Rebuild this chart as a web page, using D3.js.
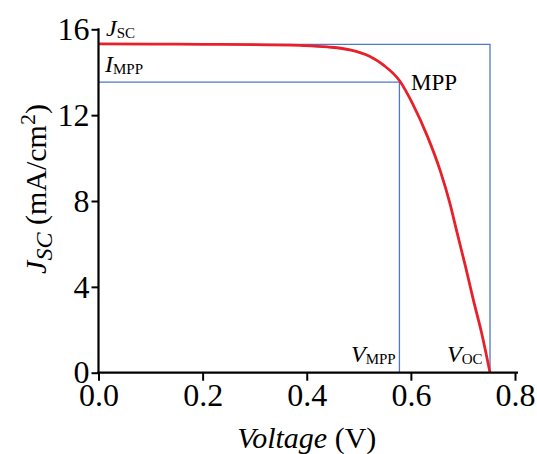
<!DOCTYPE html>
<html><head><meta charset="utf-8">
<script src="https://cdn.jsdelivr.net/npm/d3@7"></script>
<style>body{margin:0;background:#fff}svg{display:block}text{font-family:"Liberation Serif","Times New Roman",serif;fill:#000}</style>
</head><body><svg id="c" width="537" height="454"></svg>
<script>
const voltage = [0, 0.1, 0.2, 0.3, 0.387, 0.44, 0.483, 0.5215, 0.547, 0.579, 0.603, 0.632, 0.656, 0.675, 0.689, 0.705, 0.720, 0.736, 0.752];
const current = [15.32, 15.31, 15.30, 15.29, 15.25, 15.18, 15.04, 14.73, 14.34, 13.58, 12.55, 11.0, 9.44, 7.89, 6.5, 4.94, 3.39, 1.84, 0];
const xTicks = [0, 0.2, 0.4, 0.6, 0.8];
const yTicks = [0, 4, 8, 12, 16];
const Jsc = 15.3, Impp = 13.54, Vmpp = 0.578, Voc = 0.752;

const svg = d3.select("#c");
const x = d3.scaleLinear().domain([0, 0.8]).range([98.5, 515]);
const y = d3.scaleLinear().domain([0, 16]).range([372.7, 29.3]);

// reference rectangles
const blue = "#4f79c7";
const g = svg.append("g");
g.append("path").attr("fill","none").attr("stroke",blue).attr("stroke-width",1.3)
  .attr("d", `M${x(0)},${y(Jsc)}H${x(Voc)}V${y(0)}`);
g.append("path").attr("fill","none").attr("stroke",blue).attr("stroke-width",1.3)
  .attr("d", `M${x(0)},${y(Impp)}H${x(Vmpp)}V${y(0)}`);

// curve
const pts = voltage.map((v,i)=>[v,current[i]]);
svg.append("path").datum(pts).attr("fill","none").attr("stroke","#e8202a").attr("stroke-width",2.8)
  .attr("d", d3.line().x(d=>x(d[0])).y(d=>y(d[1])).curve(d3.curveMonotoneX));

// axes
const xa = svg.append("g").attr("transform",`translate(0,${y(0)})`)
  .call(d3.axisBottom(x).tickValues(xTicks).tickFormat(d3.format(".1f")).tickSize(8).tickPadding(3).tickSizeOuter(0));
const ya = svg.append("g").attr("transform",`translate(${x(0)},0)`)
  .call(d3.axisLeft(y).tickValues(yTicks).tickFormat(d3.format("d")).tickSize(7).tickPadding(2).tickSizeOuter(0));
[xa, ya].forEach(a=>{
  a.selectAll("text").style("font-size","32px").style("font-family","'Liberation Serif',serif").attr("fill","#000");
  a.selectAll("line").attr("stroke","#000").attr("stroke-width",2);
  a.select(".domain").attr("stroke","#000").attr("stroke-width",2.2);
});
xa.select(".domain").attr("d", `M${x(0)-1},0H518`);
ya.select(".domain").attr("d", `M0,${y(16)-1}V${y(0)+1}`);

// axis titles
svg.append("text").attr("x", x(0.4)).attr("y", 448).attr("text-anchor","middle").style("font-size","30px")
  .html('<tspan font-style="italic">Voltage</tspan> (V)');
svg.append("text").attr("transform","translate(46,189) rotate(-90)").attr("text-anchor","middle").style("font-size","30px")
  .html('<tspan font-style="italic">J</tspan><tspan font-style="italic" dy="6" font-size="24px">SC</tspan><tspan dy="-6"> (mA/cm</tspan><tspan dy="-11" font-size="22px">2</tspan><tspan dy="11">)</tspan>');

// annotations
function lab(xp, yp, main, sub){
  const t = svg.append("text").attr("x",xp).attr("y",yp).style("font-size","24px");
  t.append("tspan").attr("font-style","italic").text(main);
  t.append("tspan").attr("font-size","15px").attr("dy",2).text(sub);
}
lab(106, 36, "J", "SC");
lab(105, 72, "I", "MPP");
lab(351, 362, "V", "MPP");
lab(447, 362, "V", "OC");
svg.append("text").attr("x", 411).attr("y", 90).style("font-size","23px").text("MPP");
</script></body></html>
